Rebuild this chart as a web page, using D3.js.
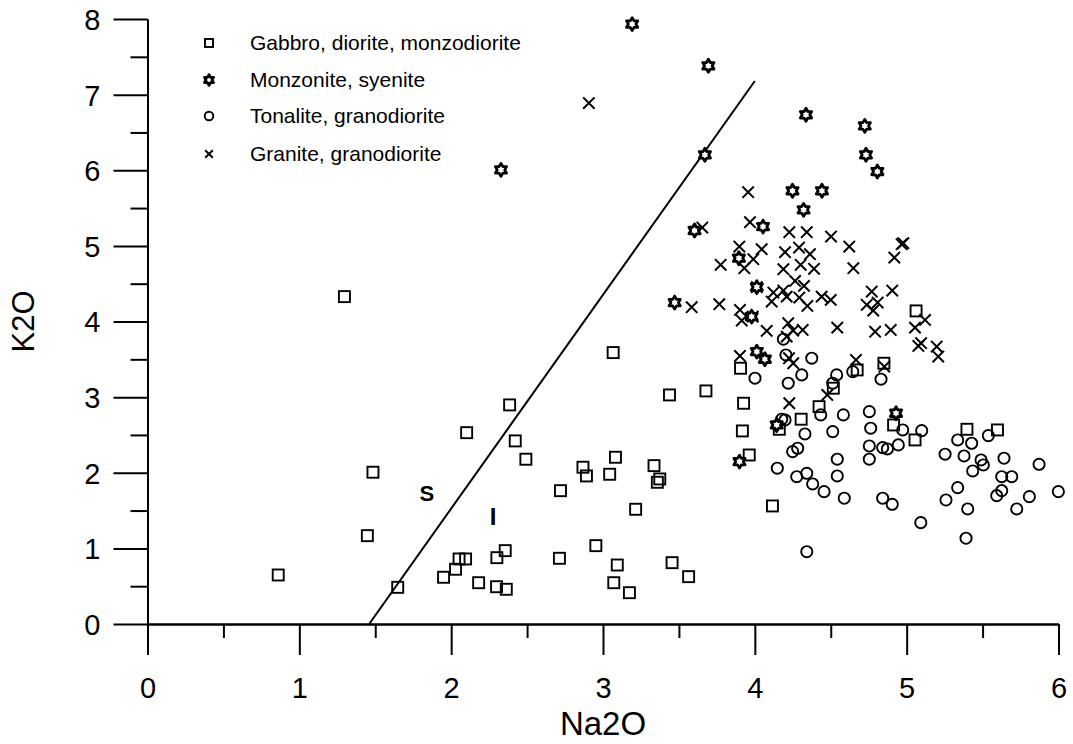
<!DOCTYPE html>
<html><head><meta charset="utf-8">
<script src="https://cdn.jsdelivr.net/npm/d3@7"></script>
<style>html,body{margin:0;padding:0;background:#fff}svg{display:block}</style>
</head><body>
<svg id="c" width="1073" height="744"></svg>
<script>
// Data: [Na2O, K2O]
const gabbro = [
 [1.297,4.329],[1.485,2.007],[1.448,1.168],[0.861,0.648],[1.648,0.485],[2.102,2.530],[2.385,2.897],
 [2.422,2.421],[2.492,2.179],[1.950,0.618],[2.029,0.724],[2.052,0.860],[2.095,0.860],[2.181,0.546],
 [2.301,0.877],[2.356,0.970],[2.299,0.493],[2.363,0.459],[3.438,3.029],[3.678,3.082],[3.926,2.919],
 [3.918,2.553],[2.868,2.073],[2.891,1.958],[3.082,2.205],[3.044,1.980],[3.336,2.094],[3.374,1.918],
 [3.358,1.874],[2.720,1.763],[3.215,1.517],[3.963,2.235],[4.305,2.708],[4.161,2.575],[4.423,2.874],
 [4.914,2.632],[5.055,2.434],[5.397,2.575],[5.598,2.566],[4.116,1.561],[2.953,1.036],[2.713,0.869],
 [3.094,0.780],[3.455,0.811],[3.564,0.626],[3.071,0.546],[3.174,0.414],[3.067,3.589],[5.062,4.140],
 [3.906,3.382],[4.674,3.360],[4.850,3.448],[4.517,3.118]
];
const monzonite = [
 [2.328,6.005],[3.192,7.932],[3.694,7.381],[3.671,6.204],[4.337,6.733],[4.724,6.587],[4.732,6.204],
 [4.807,5.983],[4.248,5.728],[4.442,5.728],[4.321,5.476],[3.603,5.203],[4.054,5.255],[3.472,4.250],
 [3.895,4.837],[4.013,4.454],[3.979,4.065],[4.013,3.602],[4.066,3.501],[4.930,2.787],[4.144,2.632],
 [3.899,2.147]
];
const tonalite = [
 [4.188,3.766],[4.205,3.558],[4.375,3.515],[4.309,3.294],[4.220,3.184],[4.001,3.250],[4.539,3.294],
 [4.513,3.184],[4.645,3.337],[4.831,3.237],[4.583,2.765],[4.434,2.765],[4.754,2.808],[4.763,2.589],
 [4.513,2.544],[4.330,2.513],[4.177,2.708],[4.199,2.698],[4.974,2.566],[5.099,2.557],[4.754,2.354],
 [4.842,2.332],[4.873,2.315],[4.945,2.368],[4.754,2.179],[4.148,2.060],[4.249,2.279],[4.282,2.324],
 [4.543,2.179],[4.276,1.948],[4.342,1.993],[4.381,1.852],[4.456,1.750],[4.543,1.958],[4.589,1.663],
 [4.842,1.663],[4.905,1.583],[5.093,1.340],[4.342,0.956],[5.253,2.245],[5.336,2.434],[5.428,2.390],
 [5.538,2.491],[5.378,2.222],[5.490,2.169],[5.505,2.103],[5.435,2.024],[5.641,2.192],[5.626,1.948],
 [5.692,1.948],[5.626,1.763],[5.593,1.697],[5.872,2.112],[5.999,1.750],[5.808,1.684],[5.725,1.521],
 [5.336,1.803],[5.259,1.640],[5.402,1.521],[5.391,1.134]
];
const granite = [
 [2.907,6.888],[3.956,5.710],[3.654,5.242],[3.968,5.313],[4.227,5.181],[4.342,5.181],[4.502,5.123],
 [4.622,4.991],[4.967,5.022],[4.978,5.036],[4.919,4.845],[4.649,4.705],[3.898,4.991],[4.045,4.956],
 [4.199,4.917],[4.291,4.978],[4.363,4.890],[3.990,4.824],[3.931,4.705],[3.775,4.749],[4.188,4.692],
 [4.302,4.749],[4.390,4.696],[4.265,4.537],[4.324,4.471],[4.122,4.382],[4.188,4.409],[4.111,4.263],
 [4.210,4.329],[4.293,4.316],[4.346,4.206],[4.440,4.329],[4.500,4.286],[4.770,4.396],[4.905,4.409],
 [4.737,4.220],[4.809,4.250],[4.780,4.144],[3.584,4.189],[3.766,4.229],[3.902,4.153],[3.914,4.012],
 [4.078,3.876],[4.220,3.978],[4.253,3.880],[4.315,3.889],[4.543,3.919],[4.792,3.866],[4.895,3.889],
 [5.055,3.919],[5.121,4.021],[5.077,3.677],[5.095,3.713],[5.198,3.668],[5.208,3.536],[3.902,3.545],
 [4.210,3.800],[4.225,3.515],[4.253,3.448],[4.666,3.492],[4.227,2.919],[4.853,3.403],[4.477,3.029],
 [3.986,4.065],[4.013,4.454]
];
const boundary = [[1.46,0],[4.0,7.18]];
const xTicks = [0,1,2,3,4,5,6];
const yTicks = [0,1,2,3,4,5,6,7,8];
const legendLabels = ["Gabbro, diorite, monzodiorite","Monzonite, syenite","Tonalite, granodiorite","Granite, granodiorite"];

const svg = d3.select("#c");
const FONT = "'Liberation Sans', Arial, sans-serif";
const x = d3.scaleLinear().domain([0,6]).range([147.5,1058.5]);
const y = d3.scaleLinear().domain([0,8]).range([624,19]);

// minor ticks
const gxm = svg.append("g").attr("transform",`translate(0,${y(0)})`)
  .call(d3.axisBottom(x).tickValues(d3.range(0.5,6,1)).tickSize(14).tickSizeOuter(0).tickFormat(""));
const gym = svg.append("g").attr("transform",`translate(${x(0)},0)`)
  .call(d3.axisLeft(y).tickValues(d3.range(0.5,8,1)).tickSize(17).tickSizeOuter(0).tickFormat(""));
const gx = svg.append("g").attr("transform",`translate(0,${y(0)})`)
  .call(d3.axisBottom(x).tickValues(xTicks).tickSize(31).tickSizeOuter(0).tickFormat(d3.format("d")));
const gy = svg.append("g").attr("transform",`translate(${x(0)},0)`)
  .call(d3.axisLeft(y).tickValues(yTicks).tickSize(34).tickSizeOuter(0).tickPadding(13).tickFormat(d3.format("d")));
[gxm,gym,gx,gy].forEach(g=>{
  g.selectAll("path,line").attr("stroke","#000").attr("stroke-width",2);
  g.selectAll("text").attr("font-family",FONT).attr("font-size",29).attr("fill","#000");
});
gx.selectAll("text").attr("y",74).attr("dy",0);
gy.selectAll("text").attr("dy","0.36em");

// axis titles
svg.append("text").attr("x",x(3)).attr("y",735).attr("text-anchor","middle")
  .attr("font-family",FONT).attr("font-size",33).text("Na2O");
svg.append("text").attr("transform",`translate(34,${y(4)}) rotate(-90)`).attr("text-anchor","middle")
  .attr("font-family",FONT).attr("font-size",31).text("K2O");

// boundary line
svg.append("path").datum(boundary)
  .attr("d",d3.line().x(d=>x(d[0])).y(d=>y(d[1])))
  .attr("stroke","#000").attr("stroke-width",2).attr("fill","none");
svg.append("text").attr("x",x(1.84)).attr("y",y(1.73)+8).attr("text-anchor","middle")
  .attr("font-family",FONT).attr("font-weight","bold").attr("font-size",22).text("S");
svg.append("text").attr("x",x(2.276)).attr("y",y(1.43)+9).attr("text-anchor","middle")
  .attr("font-family",FONT).attr("font-weight","bold").attr("font-size",24).text("I");

// symbol generators
function hexPath(r){
  const pts=[];
  for(let i=0;i<12;i++){
    const a=-Math.PI/2+i*Math.PI/6;
    const rr = i%2===0 ? r : r*0.58;
    pts.push([rr*Math.cos(a), rr*Math.sin(a)]);
  }
  return "M"+pts.map(p=>p[0].toFixed(2)+","+p[1].toFixed(2)).join("L")+"Z";
}
function drawSquare(g,s){ g.append("rect").attr("x",-s/2).attr("y",-s/2).attr("width",s).attr("height",s)
  .attr("fill","none").attr("stroke","#000").attr("stroke-width",1.9); }
function drawStar(g,r){ g.append("path").attr("d",hexPath(r)).attr("fill","#fff").attr("stroke","#000").attr("stroke-width",2.8)
  .attr("stroke-linejoin","round"); }
function drawCircle(g,r){ g.append("circle").attr("r",r).attr("fill","none").attr("stroke","#000").attr("stroke-width",1.9); }
function drawX(g,s){ g.append("path").attr("d",`M${-s},${-s}L${s},${s}M${-s},${s}L${s},${-s}`)
  .attr("stroke","#000").attr("stroke-width",2).attr("fill","none"); }

const marks = svg.append("g");
function plot(data, fn){
  marks.selectAll(null).data(data).enter().append("g")
    .attr("transform",d=>`translate(${x(d[0])},${y(d[1])})`)
    .each(function(){ fn(d3.select(this)); });
}
plot(gabbro, g=>drawSquare(g,11));
plot(tonalite, g=>drawCircle(g,5.6));
plot(granite, g=>drawX(g,5.7));
plot(monzonite, g=>drawStar(g,6.5));

// legend
const legY = [43,80,116,154];
const leg = svg.append("g");
legendLabels.forEach((t,i)=>{
  const g = leg.append("g").attr("transform",`translate(209,${legY[i]})`);
  if(i===0) drawSquare(g,8);
  if(i===1) drawStar(g,5.2);
  if(i===2) drawCircle(g,4.3);
  if(i===3) drawX(g,3.8);
  leg.append("text").attr("x",250).attr("y",legY[i]+7).attr("font-family",FONT).attr("font-size",21).text(t);
});
</script>
</body></html>
